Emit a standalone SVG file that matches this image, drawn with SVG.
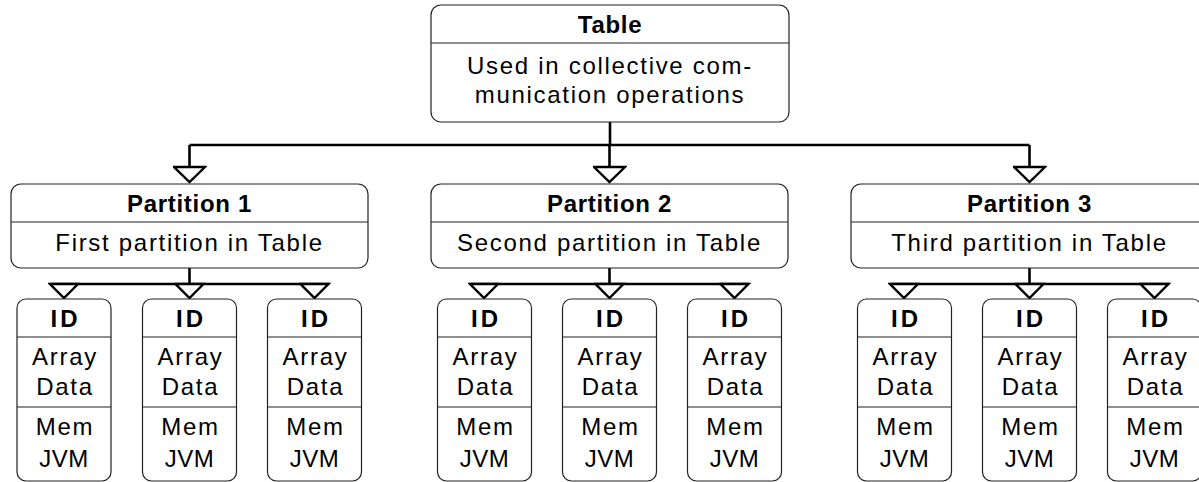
<svg xmlns="http://www.w3.org/2000/svg" width="1199" height="482" viewBox="0 0 1199 482">
<style>
.box{fill:#fff;stroke:#222;stroke-width:1.2}
.div{stroke:#222;stroke-width:1.2}
.con{fill:none;stroke:#000;stroke-width:2.6}
text{font-family:"Liberation Sans",Arial,sans-serif;font-size:24px;fill:#000;text-anchor:middle;letter-spacing:1.7px}
.b{font-weight:bold;letter-spacing:0.7px}
.id{font-weight:bold;letter-spacing:3px}
</style>
<defs>
<marker id="big" viewBox="-2 -17 19 34" markerWidth="19" markerHeight="34" refX="15" refY="0" orient="auto" markerUnits="userSpaceOnUse">
<path d="M0,-15.5 L15,0 L0,15.5 Z" fill="#fff" stroke="#000" stroke-width="2.4" stroke-linejoin="miter"/>
</marker>
<marker id="small" viewBox="-2 -16 18 32" markerWidth="18" markerHeight="32" refX="14" refY="0" orient="auto" markerUnits="userSpaceOnUse">
<path d="M0,-14 L14,0 L0,14 Z" fill="#fff" stroke="#000" stroke-width="2.4" stroke-linejoin="miter"/>
</marker>
</defs>
<g id="connectors">
<path class="con" d="M610,122 V145 M189.5,145 H1029.5"/>
<path class="con" d="M189.5,145 V182" marker-end="url(#big)"/>
<path class="con" d="M609.5,145 V182" marker-end="url(#big)"/>
<path class="con" d="M1029.5,145 V182" marker-end="url(#big)"/>
<path class="con" d="M189.5,268 V284 M50,284 H329"/>
<path class="con" d="M64,284 V298" marker-end="url(#small)"/>
<path class="con" d="M189.5,284 V298" marker-end="url(#small)"/>
<path class="con" d="M314.5,284 V298" marker-end="url(#small)"/>
<path class="con" d="M609.5,268 V284 M470,284 H749"/>
<path class="con" d="M484,284 V298" marker-end="url(#small)"/>
<path class="con" d="M609.5,284 V298" marker-end="url(#small)"/>
<path class="con" d="M734.5,284 V298" marker-end="url(#small)"/>
<path class="con" d="M1029.5,268 V284 M890,284 H1169"/>
<path class="con" d="M904,284 V298" marker-end="url(#small)"/>
<path class="con" d="M1029.5,284 V298" marker-end="url(#small)"/>
<path class="con" d="M1154.5,284 V298" marker-end="url(#small)"/>
</g>
<g id="table">
<rect class="box" x="431" y="5" width="358" height="117" rx="10"/>
<line class="div" x1="431" y1="43" x2="789" y2="43"/>
<text class="b" x="610" y="33">Table</text>
<text x="610" y="74">Used in collective com-</text>
<text x="610" y="103">munication operations</text>
</g>
<g id="partition1">
<rect class="box" x="11" y="184" width="357" height="84" rx="10"/>
<line class="div" x1="11" y1="222" x2="368" y2="222"/>
<text class="b" x="189.5" y="212">Partition 1</text>
<text x="189.5" y="251">First partition in Table</text>
</g>
<g id="partition2">
<rect class="box" x="431" y="184" width="357" height="84" rx="10"/>
<line class="div" x1="431" y1="222" x2="788" y2="222"/>
<text class="b" x="609.5" y="212">Partition 2</text>
<text x="609.5" y="251">Second partition in Table</text>
</g>
<g id="partition3">
<rect class="box" x="851" y="184" width="357" height="84" rx="10"/>
<line class="div" x1="851" y1="222" x2="1208" y2="222"/>
<text class="b" x="1029.5" y="212">Partition 3</text>
<text x="1029.5" y="251">Third partition in Table</text>
</g>
<defs>
<g id="idbox">
<rect class="box" x="-47" y="299" width="94" height="182" rx="9"/>
<line class="div" x1="-47" y1="337" x2="47" y2="337"/>
<line class="div" x1="-47" y1="407" x2="47" y2="407"/>
<text class="id" x="1.5" y="327">ID</text>
<text x="1" y="365">Array</text>
<text x="1" y="395">Data</text>
<text x="1" y="435">Mem</text>
<text x="0" y="467" style="letter-spacing:0.5px">JVM</text>
</g>
</defs>
<g id="p1-item1"><use href="#idbox" x="64"/></g>
<g id="p1-item2"><use href="#idbox" x="189.5"/></g>
<g id="p1-item3"><use href="#idbox" x="314.5"/></g>
<g id="p2-item1"><use href="#idbox" x="484.5"/></g>
<g id="p2-item2"><use href="#idbox" x="609.5"/></g>
<g id="p2-item3"><use href="#idbox" x="734.5"/></g>
<g id="p3-item1"><use href="#idbox" x="904.5"/></g>
<g id="p3-item2"><use href="#idbox" x="1029.5"/></g>
<g id="p3-item3"><use href="#idbox" x="1154.5"/></g>
</svg>
